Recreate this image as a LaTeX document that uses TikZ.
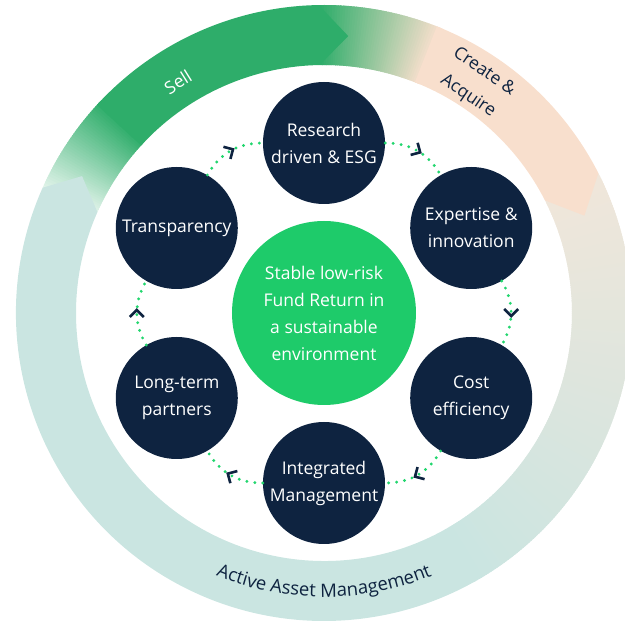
\documentclass[tikz,border=0pt]{standalone}
\usepackage{fontspec}
\setmainfont{Open Sans}
\usetikzlibrary{decorations.markings, decorations.text}

\definecolor{navy}{RGB}{14,35,64}
\definecolor{hubgreen}{RGB}{30,203,106}
\definecolor{dotgreen}{RGB}{34,214,110}
\definecolor{sellgreen}{RGB}{46,173,106}
\definecolor{ringpeach}{RGB}{248,223,205}
\definecolor{ringbeige}{RGB}{240,230,218}
\definecolor{ringteal}{RGB}{202,229,225}

\begin{document}
\begin{tikzpicture}[x=1pt, y=1pt,
    stepcircle/.style={circle, fill=navy, minimum size=122pt, inner sep=0pt,
      text=white, align=center, font=\fontsize{17.5}{27}\selectfont},
    hub/.style={circle, fill=hubgreen, minimum size=184pt, inner sep=0pt,
      text=white, align=center, font=\fontsize{17.5}{27}\selectfont},
    bandtext/.style={align=center, font=\fontsize{17.5}{29}\selectfont},
    flow/.style={dotgreen, line width=3.2pt, line cap=round,
      dash pattern=on 0pt off 8pt, postaction={decorate},
      decoration={markings, mark=at position 0.5 with
        {\draw[navy, solid, line width=2.6pt, line cap=butt, line join=miter]
          (-4,7) -- (3,0) -- (-4,-7);}}}]
  \useasboundingbox (-324,-310) rectangle (301,313);

  % Draw the ring: beige into teal below the peach arrow
  \foreach \a in {0,...,174}{
    \pgfmathsetmacro\angA{27-0.5*\a}
    \pgfmathsetmacro\angB{\angA-0.8}
    \pgfmathsetmacro\p{\a/174*100}
    \fill[ringteal!\p!ringbeige] (\angA:248) arc[start angle=\angA, end angle=\angB, radius=248]
      -- (\angB:308) arc[start angle=\angB, end angle=\angA, radius=308] -- cycle;
  }

  % Draw the ring: green into peach, then Create & Acquire
  \foreach \a in {0,...,46}{
    \pgfmathsetmacro\angA{91-0.5*\a}
    \pgfmathsetmacro\angB{\angA-0.8}
    \pgfmathsetmacro\p{\a/46*100}
    \fill[ringpeach!\p!sellgreen] (\angA:248) arc[start angle=\angA, end angle=\angB, radius=248]
      -- (\angB:308) arc[start angle=\angB, end angle=\angA, radius=308] -- cycle;
  }
  \fill[ringpeach] (68.5:248) arc[start angle=68.5, end angle=27, radius=248]
    -- (20.5:278) -- (27:308) arc[start angle=27, end angle=68.5, radius=308] -- cycle;

  % Draw the ring: Sell
  \foreach \a in {0,...,38}{
    \pgfmathsetmacro\angA{156-0.5*\a}
    \pgfmathsetmacro\angB{\angA-0.8}
    \pgfmathsetmacro\p{15+\a/38*85}
    \fill[sellgreen!\p!white] (\angA:248) arc[start angle=\angA, end angle=\angB, radius=248]
      -- (\angB:308) arc[start angle=\angB, end angle=\angA, radius=308] -- cycle;
  }
  \fill[sellgreen] (137.5:248) arc[start angle=137.5, end angle=91, radius=248]
    -- (85:278) -- (91:308) arc[start angle=91, end angle=137.5, radius=308] -- cycle;

  % Draw the ring: Active Asset Management
  \fill[ringteal] (-60.5:248) arc[start angle=-60.5, end angle=-204, radius=248]
    -- (-209.5:278) -- (-204:308) arc[start angle=-204, end angle=-60.5, radius=308] -- cycle;

  % Labels on the ring
  \node[bandtext, text=white, rotate=32] (sell) at (-146,231) {Sell};
  \node[bandtext, text=navy, rotate=-34] (acquire) at (152,229) {Create \&\\Acquire};
  \path[decorate, decoration={text along path, text align=center, text color=navy,
      text={|\fontsize{18.5}{20}\selectfont|Active Asset Management}}]
    (-125:284) arc[start angle=-125, end angle=-55, radius=284];

  % Centre and the six steps
  \node[hub] (hub) at (0,0) {Stable low-risk\\Fund Return in\\a sustainable\\environment};
  \node[stepcircle] (research) at (90:170) {Research\\driven \& ESG};
  \node[stepcircle] (expertise) at (30:170) {Expertise \&\\innovation};
  \node[stepcircle] (cost) at (-30:170) {Cost\\efficiency};
  \node[stepcircle] (integrated) at (-90:170) {Integrated\\Management};
  \node[stepcircle] (partners) at (-150:170) {Long-term\\partners};
  \node[stepcircle] (transparency) at (150:170) {Transparency};

  % Dotted links between the steps
  \draw[flow] (transparency) to[bend left=30] (research);
  \draw[flow] (research) to[bend left=30] (expertise);
  \draw[flow] (expertise) to[bend left=30] (cost);
  \draw[flow] (cost) to[bend left=30] (integrated);
  \draw[flow] (integrated) to[bend left=30] (partners);
  \draw[flow] (partners) to[bend left=30] (transparency);
\end{tikzpicture}
\end{document}
